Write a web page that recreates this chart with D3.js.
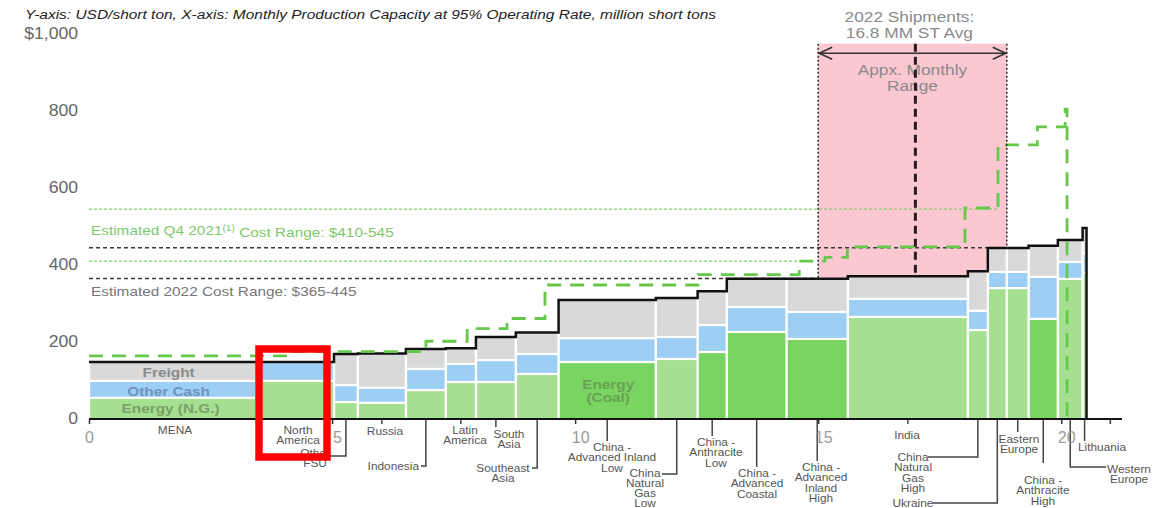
<!DOCTYPE html>
<html><head><meta charset="utf-8">
<script src="https://cdn.jsdelivr.net/npm/d3@7"></script>
<style>
body{margin:0;background:#fff;}
svg{display:block;font-family:Arial,"Liberation Sans",Helvetica,sans-serif;}
</style>
</head><body>
<svg id="c" width="1154" height="508"></svg>
<script>
// ---------------- DATA ----------------
const regions = ["MENA","North America","FSU","Russia","Indonesia","Latin America","South Asia","Southeast Asia",
  "China - Advanced Inland Low","China Natural Gas Low","China - Anthracite Low","China - Advanced Coastal",
  "China - Advanced Inland High","India","China - Natural Gas High","Ukraine","Eastern Europe",
  "China - Anthracite High","Western Europe","Lithuania"];
const capacity  = [3.44,1.60,0.49,0.99,0.82,0.62,0.82,0.88,2.00,0.86,0.60,1.23,1.26,2.47,0.41,0.39,0.45,0.60,0.51,0.08];
const energy    = [55,99,44,42,75,96,96,117,148,156,174,226,208,265,231,340,340,260,364,380];
const otherCash = [44,49,44,39,55,47,57,52,62,57,70,65,70,47,50,42,42,109,44,50];
const freight   = [49,0,81,89,52,41,60,56,99,101,88,73,86,59,103,62,62,81,57,66];
const fuel      = ["gas","gas","gas","gas","gas","gas","gas","gas","coal","gas","coal","coal","coal","gas","gas","gas","gas","coal","gas","gas"];

// Q4 2021 cost curve (step starts, cost)
const q4Start = [0,4.09,6.93,7.78,8.60,9.38,12.53,14.61,15.14,15.60,18.02,18.70,19.51,20.08];
const q4Cost  = [164,175,202,235,261,348,375,410,420,447,548,712,759,805];
const q4End   = 20.12;

const q4Range     = [410,545];
const q4RangeEnd  = [14.61,18.70];
const range2022   = [365,445];
const shipRange   = [15.0,18.88];
const shipAvg     = 17.0;

const xTicks = [0,5,10,15,20,21];
const yTicks = [0,200,400,600,800,1000];

// ---------------- LAYOUT ----------------
const SX = 1.13; // horizontal text stretch of the reference
const svg = d3.select("#c");
const x = d3.scaleLinear().domain([0,21.25]).range([89,1122]);
const y = d3.scaleLinear().domain([0,1000]).range([419,34]);
const C = {gas:"#a5e090", coal:"#7ad461", other:"#9dcff5", freight:"#d9d9d9",
           pink:"#fbc7d1", q4:"#66c84b", q4thin:"#86d06e"};

const cum = [0, ...d3.cumsum(capacity)];
const total = energy.map((e,i)=>e+otherCash[i]+freight[i]);

// pink range box
const pinkTop = 975;
svg.append("rect").attr("x",x(shipRange[0])).attr("width",x(shipRange[1])-x(shipRange[0]))
  .attr("y",y(pinkTop)).attr("height",y(0)-y(pinkTop)).attr("fill",C.pink);

// range lines
q4Range.forEach((v,i)=>{
  svg.append("line").attr("x1",x(0)).attr("x2",x(q4RangeEnd[i])).attr("y1",y(v)).attr("y2",y(v))
    .attr("stroke",C.q4thin).attr("stroke-width",1.3).attr("stroke-dasharray","3,2");
});
range2022.forEach((v,i)=>{
  svg.append("line").attr("x1",x(0)).attr("x2",x(shipRange[i])).attr("y1",y(v)).attr("y2",y(v))
    .attr("stroke","#3a3a3a").attr("stroke-width",1.5).attr("stroke-dasharray","4,3");
});

// bars
const g = svg.append("g");
regions.forEach((r,i)=>{
  const x0 = x(cum[i]), x1 = x(cum[i+1]);
  g.append("rect").attr("x",x0).attr("width",x1-x0).attr("y",y(total[i])).attr("height",y(0)-y(total[i])).attr("fill","#fff");
  const segs = [[0,energy[i],C[fuel[i]]],[energy[i],energy[i]+otherCash[i],C.other],[energy[i]+otherCash[i],total[i],C.freight]];
  segs.forEach(([a,b,col],k)=>{
    if(b-a<=0) return;
    const yt = y(b)+ (k<2 ? 1.1 : 0.5), yb = y(a) - (k>0 ? 1.1 : 0);
    g.append("rect").attr("x",x0+1.2).attr("width",Math.max(0.5,x1-x0-2.4))
      .attr("y",yt).attr("height",Math.max(0,yb-yt)).attr("fill",col);
  });
});

const stretchTexts = [];
// segment labels
function segLabel(txt,cx,cy,col,size){
  stretchTexts.push(svg.append("text").attr("x",cx).attr("y",cy).attr("dy","0.35em").attr("text-anchor","middle")
    .attr("font-weight","bold").attr("font-size",size).attr("fill",col).text(txt));
}
const mx = (x(cum[0])+x(cum[1]))/2 - 4;
segLabel("Freight", mx, y(energy[0]+otherCash[0]+freight[0]/2)+1, "#8a8a8a", 13.6);
segLabel("Other Cash", mx, y(energy[0]+otherCash[0]/2)+1.5, "#6f94b9", 13.6);
segLabel("Energy (N.G.)", mx+2, y(energy[0]/2), "#7a9f69", 13.6);
const cx8 = (x(cum[8])+x(cum[9]))/2+1;
segLabel("Energy", cx8, y(energy[8]/2)-6.5, "#68a053", 13.6);
segLabel("(Coal)", cx8, y(energy[8]/2)+6.5, "#68a053", 13.6);

// black cost curve (2022)
const pts = regions.map((r,i)=>[cum[i],total[i]]);
pts.push([cum[regions.length], total[regions.length-1]]);
pts.push([cum[regions.length], 0]);
svg.append("path").attr("d", d3.line().x(d=>x(d[0])).y(d=>y(d[1])).curve(d3.curveStepAfter)(pts))
  .attr("fill","none").attr("stroke","#111").attr("stroke-width",2.5);

// Q4 2021 green dashed curve
const qp = q4Start.map((s,i)=>[s,q4Cost[i]]);
qp.push([q4End,q4Cost[q4Cost.length-1]]);
qp.push([q4End,0]);
svg.append("path").attr("d", d3.line().x(d=>x(d[0])).y(d=>y(d[1])).curve(d3.curveStepAfter)(qp))
  .attr("fill","none").attr("stroke",C.q4).attr("stroke-width",2.8).attr("stroke-dasharray","14,9");

function stepAt(u){ for(let i=0;i<regions.length;i++){ if(u<cum[i+1]) return total[i]; } return 0; }

// pink box edges
shipRange.forEach(u=>{
  svg.append("line").attr("x1",x(u)).attr("x2",x(u)).attr("y1",y(pinkTop)).attr("y2",y(stepAt(u-0.01)))
    .attr("stroke","#333").attr("stroke-width",1.6).attr("stroke-dasharray","2,2");
});

// annotation texts
const ann = svg.append("g").attr("fill","#8a8a8a").attr("font-size",15.3).attr("text-anchor","middle");
[["2022 Shipments:",-6,17],["16.8 MM ST Avg",-6,33],["Appx. Monthly",-3,70],["Range",-3,86]].forEach(([s,dx,yy])=>{
  stretchTexts.push(ann.append("text").attr("x",x(shipAvg)+dx).attr("y",yy).attr("dy","0.35em").text(s));
});

// average dashed line
svg.append("line").attr("x1",x(shipAvg)).attr("x2",x(shipAvg)).attr("y1",y(pinkTop)).attr("y2",y(stepAt(shipAvg)))
  .attr("stroke","#2a1c1c").attr("stroke-width",3).attr("stroke-dasharray","8,5");

// double arrow
const ay = y(950), ax0 = x(shipRange[0])+1, ax1 = x(shipRange[1])-1;
svg.append("line").attr("x1",ax0).attr("x2",ax1).attr("y1",ay).attr("y2",ay).attr("stroke","#333").attr("stroke-width",1.5);
svg.append("path").attr("d",`M${ax0+13},${ay-6}L${ax0},${ay}L${ax0+13},${ay+6}M${ax1-13},${ay-6}L${ax1},${ay}L${ax1-13},${ay+6}`)
  .attr("fill","none").attr("stroke","#333").attr("stroke-width",1.6);

// range texts
const t1 = svg.append("text").attr("x",91).attr("y",230).attr("dy","0.35em").attr("font-size",13.6).attr("fill","#7dc86a");
t1.append("tspan").text("Estimated Q4 2021");
t1.append("tspan").attr("font-size",9).attr("dy","-0.45em").text("(1)");
t1.append("tspan").attr("dy","0.45em").text(" Cost Range: $410-545");
stretchTexts.push(t1);
stretchTexts.push(svg.append("text").attr("x",91).attr("y",291).attr("dy","0.35em").attr("font-size",13.6).attr("fill","#777")
  .text("Estimated 2022 Cost Range: $365-445"));

// title
stretchTexts.push(svg.append("text").attr("x",25).attr("y",19).attr("font-size",13.7).attr("font-style","italic").attr("fill","#222")
  .text("Y-axis: USD/short ton, X-axis: Monthly Production Capacity at 95% Operating Rate, million short tons"));

// y axis labels
const ya = svg.append("g").attr("transform","translate(88,0)")
  .call(d3.axisLeft(y).tickValues(yTicks).tickSize(0).tickPadding(10).tickFormat(v=>v===1000?"$1,000":v));
ya.select(".domain").remove();
ya.selectAll("text").attr("font-size",15.6).attr("fill","#666").attr("font-family","Arial,'Liberation Sans',sans-serif")
  .each(function(){ stretchTexts.push(d3.select(this)); });

// leaders + category labels
const labelLayout = [
 {lines:["MENA"], x:175, y:430},
 {lines:["North","America"], x:298, y:430},
 {lines:["Other","FSU"], x:315, y:453, leader:456, hx:328},
 {lines:["Russia"], x:385, y:431, leader:424},
 {lines:["Indonesia"], x:419, y:466, anchor:"end", leader:466, hx:421},
 {lines:["Latin","America"], x:465, y:430, leader:424},
 {lines:["South","Asia"], x:509, y:434, leader:427},
 {lines:["Southeast","Asia"], x:503, y:468, leader:468, hx:532},
 {lines:["China -","Advanced Inland","Low"], x:612, y:447, leader:441},
 {lines:["China","Natural","Gas","Low"], x:645, y:473, leader:474, hx:662, lh:10},
 {lines:["China -","Anthracite","Low"], x:716, y:442, leader:436},
 {lines:["China -","Advanced","Coastal"], x:757, y:473, leader:467},
 {lines:["China -","Advanced","Inland","High"], x:821, y:467, leader:461},
 {lines:["India"], x:907, y:435, leader:424},
 {lines:["China","Natural","Gas","High"], x:913, y:457, leader:457, hx:928},
 {lines:["Ukraine"], x:913, y:503, leader:503, hx:933},
 {lines:["Eastern","Europe"], x:1019, y:439, leader:432},
 {lines:["China -","Anthracite","High"], x:1043, y:480, leader:463},
 {lines:["Western","Europe"], x:1129, y:469, leader:467, hx:1106},
 {lines:["Lithuania"], x:1102, y:447, leader:441},
];
const lg = svg.append("g");
regions.forEach((r,i)=>{
  const L = labelLayout[i];
  const cx = (x(cum[i])+x(cum[i+1]))/2;
  if(L.leader){
    let d = `M${cx},${y(0)}V${L.leader}`;
    if(L.hx) d += `H${L.hx}`;
    lg.append("path").attr("d",d).attr("fill","none").attr("stroke","#444").attr("stroke-width",1.5);
  }
  const t = lg.append("text").attr("x",L.x).attr("font-size",10.5).attr("fill","#555").attr("text-anchor",L.anchor||"middle");
  L.lines.forEach((s,k)=>t.append("tspan").attr("x",L.x).attr("y",L.y+k*(L.lh||10.5)).attr("dy","0.35em").text(s));
  stretchTexts.push(t);
});

// x axis
const xa = svg.append("g").attr("transform",`translate(0,${y(0)})`)
  .call(d3.axisBottom(x).tickValues(xTicks).tickSize(5).tickPadding(8).tickFormat(v=>v===21?"":v));
xa.select(".domain").attr("stroke","#111").attr("stroke-width",2).attr("d",`M${x(0)},0H${x(21.25)}`);
xa.selectAll(".tick line").attr("stroke","#333").attr("stroke-width",1.5);
xa.selectAll("text").attr("font-size",16).attr("fill","#9a9a9a").attr("font-family","Arial,'Liberation Sans',sans-serif")
  .attr("dx",(d)=>d===0?0:5);

// apply horizontal stretch around each text's anchor x
stretchTexts.forEach(t=>{
  const ax = +t.attr("x") || 0;
  t.attr("transform",`translate(${ax},0) scale(${SX},1) translate(${-ax},0)`);
});

// red highlight box
svg.append("rect").attr("x",259).attr("y",349).attr("width",68).attr("height",108)
  .attr("fill","none").attr("stroke","#ff0000").attr("stroke-width",7.5);
</script>
</body></html>
